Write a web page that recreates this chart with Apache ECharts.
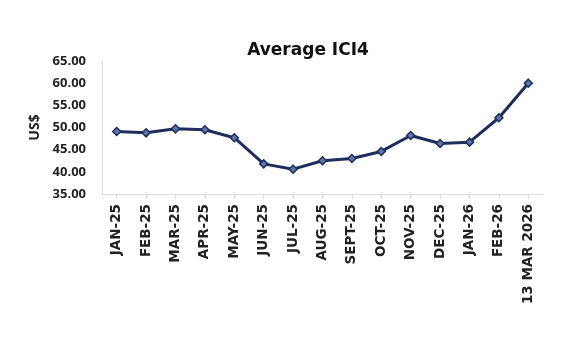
<!DOCTYPE html>
<html><head><meta charset="utf-8">
<script src="https://cdn.jsdelivr.net/npm/echarts@6/dist/echarts.min.js"></script>
<style>html,body{margin:0;padding:0;background:#fff}#c{width:586px;height:338px}</style>
</head><body><div id="c"></div>
<script>
const categories = ['JAN-25','FEB-25','MAR-25','APR-25','MAY-25','JUN-25','JUL-25','AUG-25','SEPT-25','OCT-25','NOV-25','DEC-25','JAN-26','FEB-26','13 MAR 2026'];
const values = [49.1, 48.8, 49.7, 49.5, 47.7, 41.8, 40.6, 42.5, 43.0, 44.6, 48.2, 46.4, 46.7, 52.2, 60.0];
const yMin = 35, yMax = 65, yStep = 5;
const titleText = 'Average ICI4';
const yAxisName = 'US$';

const chart = echarts.init(document.getElementById('c'), null, {renderer:'canvas'});
chart.setOption({
  animation: false,
  backgroundColor: '#fff',
  title: {
    text: titleText, left: 303, top: 37, textAlign: 'center',
    textStyle: {fontFamily: 'DejaVu Sans', fontWeight: 'bold', fontSize: 17, color: '#111'}
  },
  grid: {left: 102, right: 43, top: 61, bottom: 144, containLabel: false},
  xAxis: {
    type: 'category', data: categories, boundaryGap: true,
    axisLine: {lineStyle: {color: '#d9d9d9', width: 1}},
    axisTick: {show: true, alignWithLabel: true, length: 5, lineStyle: {color: '#d9d9d9'}},
    axisLabel: {rotate: 90, interval: 0, margin: 10, fontFamily: 'DejaVu Sans', fontWeight: 'bold', fontSize: 13.5, color: '#222'}
  },
  yAxis: {
    type: 'value', min: yMin, max: yMax, interval: yStep,
    name: yAxisName, nameLocation: 'middle', nameGap: 60, nameRotate: 90,
    nameTextStyle: {fontFamily: 'Open Sans', fontWeight: 'bold', fontSize: 14, color: '#222'},
    axisLine: {show: true, lineStyle: {color: '#d9d9d9', width: 1}},
    axisTick: {show: false},
    splitLine: {show: false},
    axisLabel: {formatter: v => v.toFixed(2), margin: 16, fontFamily: 'Open Sans', fontWeight: 'bold', fontSize: 13, color: '#222'}
  },
  series: [{
    type: 'line', data: values,
    symbol: 'diamond', symbolSize: 8,
    lineStyle: {color: '#1f2d5c', width: 3},
    itemStyle: {color: '#5a78a6', borderColor: '#1f2d5c', borderWidth: 1.5}
  }]
});
</script></body></html>
